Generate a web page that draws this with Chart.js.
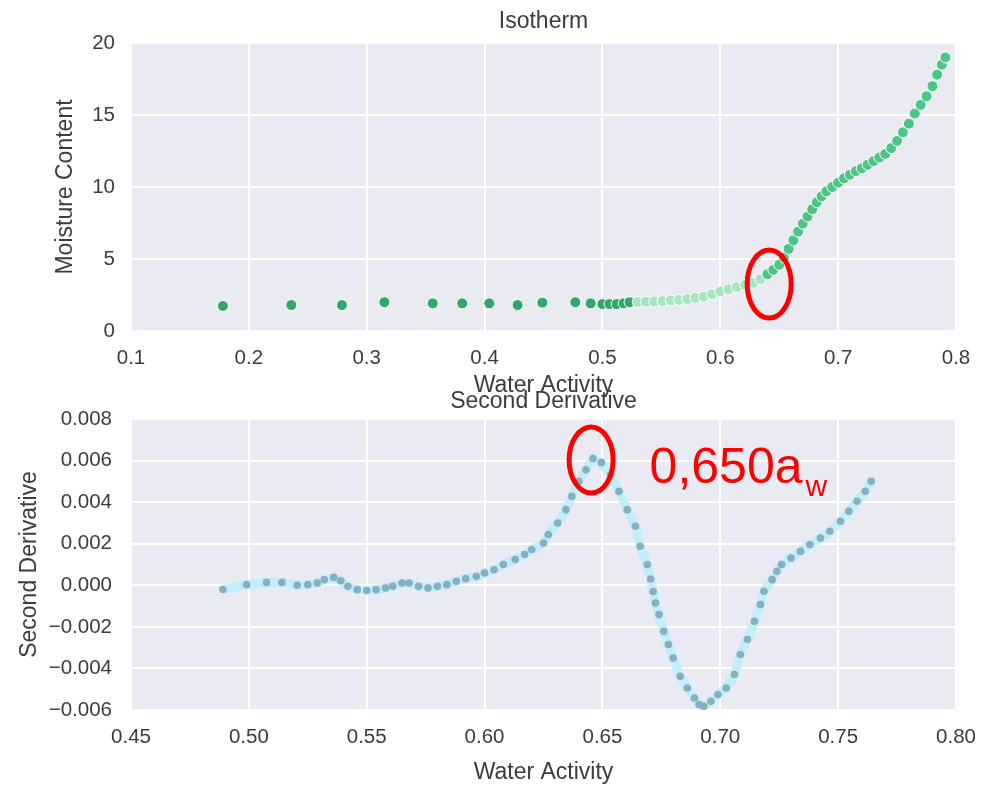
<!DOCTYPE html>
<html>
<head>
<meta charset="utf-8">
<script src="https://cdn.jsdelivr.net/npm/chart.js@4.4.0/dist/chart.umd.min.js"></script>
<style>
  html, body { margin: 0; background: #fff; overflow: hidden; }
  #wrap { position: relative; width: 982px; height: 785px; overflow: hidden; }
  canvas { position: absolute; left: 0; }
</style>
</head>
<body>
<div id="wrap">
  <canvas id="isotherm" width="982" height="400" style="top:0"></canvas>
  <canvas id="deriv" width="982" height="402" style="top:385px"></canvas>
</div>
<script>
// Isotherm: water activity vs moisture content
const isoAw = [0.178, 0.236, 0.279, 0.315, 0.356, 0.381, 0.404, 0.428, 0.449, 0.477, 0.490, 0.500, 0.506, 0.512, 0.518, 0.523,
  0.530, 0.537, 0.544, 0.551, 0.558, 0.565, 0.572, 0.579, 0.586, 0.593, 0.600, 0.607, 0.614, 0.621, 0.628,
  0.634, 0.640, 0.645, 0.650, 0.654, 0.658, 0.662, 0.666, 0.670, 0.674, 0.678, 0.682, 0.686, 0.690, 0.695,
  0.700, 0.705, 0.710, 0.715, 0.720, 0.725, 0.730, 0.735, 0.740, 0.745, 0.750, 0.755, 0.760, 0.765, 0.770, 0.775, 0.780,
  0.784, 0.788, 0.791];
const isoMoisture = [1.74, 1.80, 1.80, 2.00, 1.92, 1.92, 1.92, 1.80, 1.97, 2.00, 1.92, 1.87, 1.87, 1.87, 1.92, 2.00,
  2.02, 2.03, 2.05, 2.08, 2.12, 2.16, 2.22, 2.30, 2.38, 2.55, 2.75, 2.90, 3.05, 3.20, 3.35,
  3.60, 3.95, 4.25, 4.60, 5.10, 5.70, 6.30, 6.90, 7.45, 7.95, 8.45, 8.95, 9.35, 9.70, 10.00,
  10.30, 10.60, 10.85, 11.10, 11.30, 11.55, 11.80, 12.05, 12.30, 12.70, 13.20, 13.80, 14.40, 15.10, 15.70, 16.30, 17.00,
  17.80, 18.50, 19.00];

// Second derivative of the isotherm
const derivAw = [0.489, 0.499, 0.5075, 0.514, 0.5205, 0.525, 0.529, 0.532, 0.536, 0.539,
  0.542, 0.546, 0.550, 0.554, 0.558, 0.561, 0.565, 0.568, 0.572, 0.576,
  0.580, 0.584, 0.588, 0.592, 0.5965, 0.600, 0.604, 0.608, 0.613, 0.617,
  0.620, 0.625, 0.627, 0.631, 0.6345, 0.637, 0.640, 0.643, 0.646, 0.6495,
  0.6535, 0.657, 0.6605, 0.664, 0.666, 0.669, 0.6705, 0.6715, 0.6725, 0.674,
  0.676, 0.678, 0.680, 0.683, 0.686, 0.689, 0.691, 0.693, 0.696, 0.699,
  0.7025, 0.706, 0.7085, 0.7115, 0.7145, 0.717, 0.7185, 0.722, 0.724, 0.726,
  0.730, 0.734, 0.738, 0.7425, 0.7465, 0.751, 0.7545, 0.758, 0.7615, 0.764];
const derivValues = [-0.00020, 0.00003, 0.00014, 0.00014, 0.00000, 0.00003, 0.00011, 0.00027, 0.00038, 0.00022,
  -0.00005, -0.00021, -0.00025, -0.00021, -0.00013, -0.00005, 0.00011, 0.00011, -0.00005, -0.00013,
  -0.00005, 0.00003, 0.00019, 0.00032, 0.00043, 0.00059, 0.00075, 0.00100, 0.00124, 0.00148,
  0.00172, 0.00203, 0.00244, 0.00300, 0.00364, 0.00428, 0.00500, 0.00556, 0.00610, 0.00590,
  0.00532, 0.00452, 0.00364, 0.00284, 0.00188, 0.00100, 0.00030, -0.00030, -0.00085, -0.00141,
  -0.00221, -0.00285, -0.00350, -0.00438, -0.00494, -0.00542, -0.00574, -0.00582, -0.00558, -0.00526,
  -0.00494, -0.00429, -0.00333, -0.00261, -0.00173, -0.00093, -0.00029, 0.00027, 0.00067, 0.00100,
  0.00131, 0.00163, 0.00196, 0.00227, 0.00260, 0.00308, 0.00356, 0.00404, 0.00452, 0.00500];

// tick values
const isoXTicks = [0.1, 0.2, 0.3, 0.4, 0.5, 0.6, 0.7, 0.8];
const isoYTicks = [0, 5, 10, 15, 20];
const derivXTicks = [0.45, 0.50, 0.55, 0.60, 0.65, 0.70, 0.75, 0.80];
const derivYTicks = [-0.006, -0.004, -0.002, 0, 0.002, 0.004, 0.006, 0.008];

const FONT = "'Liberation Sans', Arial, sans-serif";
const TEXT = '#3c3c3c';

const plotBg = {
  id: 'plotBg',
  beforeDraw(chart) {
    const { ctx, chartArea: a } = chart;
    ctx.save();
    ctx.fillStyle = '#eaeaf2';
    ctx.fillRect(a.left, a.top, a.right - a.left, a.bottom - a.top);
    ctx.restore();
  }
};

// red circles + label, placed in data units
const marks = {
  id: 'marks',
  afterDraw(chart, args, opts) {
    const { ctx, scales } = chart;
    ctx.save();
    ctx.strokeStyle = '#ff0000';
    ctx.lineWidth = 5;
    (opts.ellipses || []).forEach(e => {
      ctx.beginPath();
      ctx.ellipse(scales.x.getPixelForValue(e.x), scales.y.getPixelForValue(e.y), e.rx, e.ry, 0, 0, Math.PI * 2);
      ctx.stroke();
    });
    if (opts.label) {
      const l = opts.label;
      const px = scales.x.getPixelForValue(l.x);
      const py = scales.y.getPixelForValue(l.y);
      ctx.fillStyle = '#ff0000';
      ctx.textBaseline = 'alphabetic';
      ctx.font = `50px ${FONT}`;
      ctx.fillText(l.text, px, py);
      const w = ctx.measureText(l.text).width;
      ctx.font = `30px ${FONT}`;
      ctx.fillText(l.sub, px + w + 3, py + 13);
    }
    ctx.restore();
  }
};

function fixedTicks(values) {
  return axis => { axis.ticks = values.map(v => ({ value: v })); };
}

function baseScales(opt) {
  return {
    x: {
      type: 'linear', min: opt.xMin, max: opt.xMax,
      afterBuildTicks: fixedTicks(opt.xTicks),
      afterFit: s => { s.height = opt.xHeight; s.paddingLeft = 0; s.paddingRight = 0; },
      grid: { color: '#ffffff', lineWidth: 2, drawTicks: false },
      border: { display: false },
      ticks: { color: TEXT, font: { family: FONT, size: 20.5 }, padding: opt.xPad, maxRotation: 0, autoSkip: false,
        callback: opt.xFmt },
      title: { display: true, text: 'Water Activity', color: TEXT, font: { family: FONT, size: 23 },
        padding: { top: 0, bottom: opt.xTitlePad } }
    },
    y: {
      type: 'linear', min: opt.yMin, max: opt.yMax,
      afterBuildTicks: fixedTicks(opt.yTicks),
      afterFit: s => { s.width = 131; s.paddingTop = 0; s.paddingBottom = 0; },
      grid: { color: '#ffffff', lineWidth: 2, drawTicks: false },
      border: { display: false },
      ticks: { color: TEXT, font: { family: FONT, size: 20.5 }, padding: opt.yPad, autoSkip: false,
        callback: opt.yFmt },
      title: { display: true, text: opt.yTitle, color: TEXT, font: { family: FONT, size: 23 },
        padding: { top: opt.yTitlePad, bottom: 0 } }
    }
  };
}

new Chart(document.getElementById('isotherm'), {
  type: 'scatter',
  data: {
    datasets: [{
      data: isoAw.map((x, i) => ({ x, y: isoMoisture[i] })),
      showLine: true,
      borderWidth: 7,
      segment: { borderColor: c => c.p0.parsed.x < 0.525 ? 'rgba(0,0,0,0)' : 'rgba(200,243,219,0.95)' },
      pointRadius: 5.5,
      pointBorderWidth: 1,
      pointBorderColor: '#ffffff',
      pointBackgroundColor: c => {
        const x = c.raw ? c.raw.x : 0;
        if (x < 0.525) return '#33a66a';
        if (x < 0.64) return '#a9e4c2';
        return '#4cc587';
      }
    }]
  },
  options: {
    responsive: false, animation: false,
    layout: { padding: { left: 0, right: 26, top: 0, bottom: 0 } },
    scales: baseScales({
      xMin: 0.1, xMax: 0.8, xTicks: isoXTicks, xHeight: 69, xPad: 14.6, xTitlePad: 0.2,
      xFmt: v => v.toFixed(1),
      yMin: 0, yMax: 20, yTicks: isoYTicks, yPad: 16, yTitle: 'Moisture Content', yTitlePad: 51.7,
      yFmt: v => String(v)
    }),
    plugins: {
      legend: { display: false },
      tooltip: { enabled: false },
      title: { display: true, fullSize: false, text: 'Isotherm', color: TEXT,
        font: { family: FONT, size: 23, weight: 'normal' }, padding: { top: 8.2, bottom: 7.2 } },
      marks: { ellipses: [{ x: 0.6415, y: 3.26, rx: 22, ry: 34 }] }
    }
  },
  plugins: [plotBg, marks]
});

new Chart(document.getElementById('deriv'), {
  type: 'scatter',
  data: {
    datasets: [{
      data: derivAw.map((x, i) => ({ x, y: derivValues[i] })),
      showLine: true,
      borderWidth: 9,
      borderColor: 'rgba(192,238,249,0.95)',
      pointRadius: 3.8,
      pointBorderWidth: 0,
      pointBackgroundColor: '#86afc0'
    }]
  },
  options: {
    responsive: false, animation: false,
    layout: { padding: { left: 0, right: 26, top: 0, bottom: 0 } },
    scales: baseScales({
      xMin: 0.45, xMax: 0.80, xTicks: derivXTicks, xHeight: 77, xPad: 15.5, xTitlePad: 0.2,
      xFmt: v => v.toFixed(2),
      yMin: -0.006, yMax: 0.008, yTicks: derivYTicks, yPad: 19, yTitle: 'Second Derivative', yTitlePad: 16.2,
      yFmt: v => (v < -1e-9 ? '\u2212' : '') + Math.abs(v).toFixed(3)
    }),
    plugins: {
      legend: { display: false },
      tooltip: { enabled: false },
      title: { display: true, fullSize: false, text: 'Second Derivative', color: TEXT,
        font: { family: FONT, size: 23, weight: 'normal' }, padding: { top: 3.2, bottom: 3.2 } },
      marks: {
        ellipses: [{ x: 0.6452, y: 0.00603, rx: 22, ry: 33 }],
        label: { x: 0.6700, y: 0.00492, text: '0,650a', sub: 'w' }
      }
    }
  },
  plugins: [plotBg, marks]
});
</script>
</body>
</html>
